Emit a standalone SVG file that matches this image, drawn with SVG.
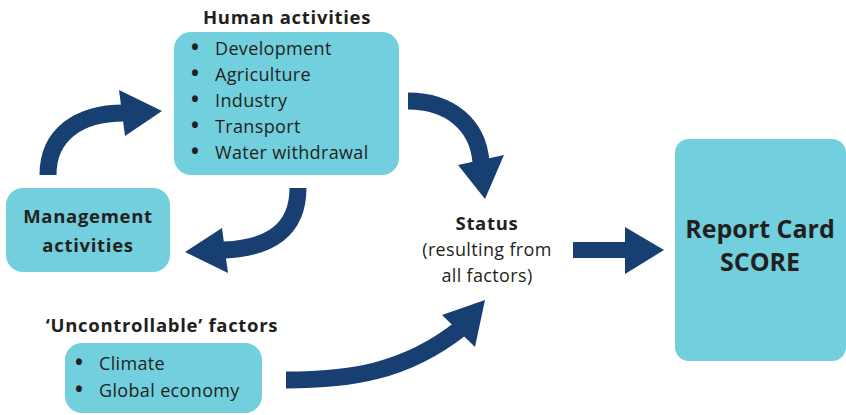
<svg xmlns="http://www.w3.org/2000/svg" width="846" height="415" viewBox="0 0 846 415">
<style>
.box{fill:#72cfdd}
text{font-family:"Open Sans","Noto Sans","Liberation Sans",sans-serif;fill:#231f20}
.t{font-size:18px;letter-spacing:0.35px}
.bl{font-size:21px;font-weight:bold;letter-spacing:0}
.b{font-size:18.5px;font-weight:bold;letter-spacing:0.7px}
.big{font-size:25px;font-weight:bold}
.shaft{fill:none;stroke:#173f72;stroke-width:17}
.head{fill:#173f72}
</style>
<rect width="846" height="415" fill="#fff"/>
<g id="human">
<text class="b" x="287" y="24" text-anchor="middle">Human activities</text>
<rect class="box" x="174" y="32" width="225" height="143" rx="17"/>
<text class="t" x="191" y="55"><tspan class="bl">•</tspan><tspan x="215">Development</tspan></text>
<text class="t" x="191" y="81"><tspan class="bl">•</tspan><tspan x="215">Agriculture</tspan></text>
<text class="t" x="191" y="107"><tspan class="bl">•</tspan><tspan x="215">Industry</tspan></text>
<text class="t" x="191" y="133"><tspan class="bl">•</tspan><tspan x="215">Transport</tspan></text>
<text class="t" x="191" y="159"><tspan class="bl">•</tspan><tspan x="215">Water withdrawal</tspan></text>
</g>
<g id="management">
<rect class="box" x="6" y="188" width="164" height="84" rx="17"/>
<text class="b" x="88" y="223" text-anchor="middle">Management</text>
<text class="b" x="88" y="252" text-anchor="middle">activities</text>
</g>
<g id="uncontrollable">
<text class="b" x="162" y="332" text-anchor="middle">‘Uncontrollable’ factors</text>
<rect class="box" x="65" y="343" width="197" height="70" rx="17"/>
<text class="t" x="75" y="370"><tspan class="bl">•</tspan><tspan x="99">Climate</tspan></text>
<text class="t" x="75" y="397"><tspan class="bl">•</tspan><tspan x="99">Global economy</tspan></text>
</g>
<g id="status">
<text class="b" x="487" y="230" text-anchor="middle">Status</text>
<text class="t" x="487" y="256" text-anchor="middle">(resulting from</text>
<text class="t" x="487" y="282" text-anchor="middle">all factors)</text>
</g>
<g id="report">
<rect class="box" x="675" y="139" width="171" height="222" rx="14"/>
<text class="big" x="760" y="238" text-anchor="middle">Report Card</text>
<text class="big" x="760" y="271" text-anchor="middle">SCORE</text>
</g>
<g id="connectors">
<path class="shaft" d="M48 175 C48 135 78 113 124 113"/>
<polygon class="head" points="119,90 162,111 125,136"/>
<path class="shaft" d="M408 101 C450 101 478 125 481 162"/>
<polygon class="head" points="458,165 504,155 485,199"/>
<path class="shaft" d="M298 188 C298 230 270 248 224 250"/>
<polygon class="head" points="222,228 185,252 228,273"/>
<path class="shaft" d="M286 380 C350 380 405 372 460 329"/>
<polygon class="head" points="442,315 485,300 475,347"/>
<rect class="head" x="573" y="242" width="53" height="16"/>
<polygon class="head" points="625,227 664,250 625,274"/>
</g>
</svg>
